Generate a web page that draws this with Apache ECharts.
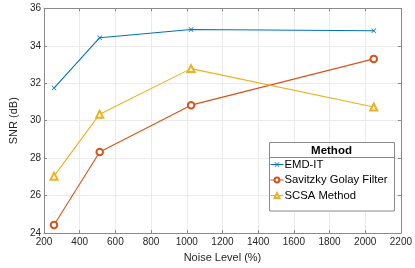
<!DOCTYPE html>
<html><head><meta charset="utf-8">
<script src="https://cdn.jsdelivr.net/npm/echarts@6/dist/echarts.min.js"></script>
<style>html,body{margin:0;padding:0;background:#fff}#c{width:415px;height:268px}</style>
</head><body><div id="c"></div>
<script>
const noiseLevels = [256, 512, 1024, 2048];
const emdIT = [31.74, 34.43, 34.87, 34.8];
const savitzkyGolay = [24.43, 28.33, 30.83, 33.3];
const scsa = [27.04, 30.35, 32.78, 30.73];
const seriesNames = ['EMD-IT', 'Savitzky Golay Filter', 'SCSA Method'];
const legendTitle = 'Method';
const xName = 'Noise Level (%)';
const yName = 'SNR (dB)';

const colors = ['#0072BD', '#D95319', '#EDB120'];
const F = 'Liberation Sans, Arial, Helvetica, sans-serif';
const txt = '#262626';
const axisCol = '#8a8a8a';
const crossPath = 'path://M0,1L1,0L5,4L9,0L10,1L6,5L10,9L9,10L5,6L1,10L0,9L4,5Z';

function pts(arr){ return noiseLevels.map((x,i)=>[x, arr[i]]); }

const chart = echarts.init(document.getElementById('c'), null, {renderer:'canvas'});
const axisLineStyle = {show:true, lineStyle:{color:axisCol, width:1}};
chart.setOption({
  animation:false,
  color: colors,
  grid:{left:29.3, right:12.7, top:8.3, bottom:29.7},
  xAxis:[{
    type:'value', min:200, max:2200, interval:200,
    name:xName, nameLocation:'middle', nameGap:16,
    nameTextStyle:{color:txt, fontFamily:F, fontSize:11},
    axisLine:axisLineStyle,
    axisTick:{show:true, inside:true, length:3, lineStyle:{color:axisCol}},
    axisLabel:{color:txt, fontFamily:F, fontSize:10, margin:4, formatter:v=>String(v)},
    splitLine:{show:true, lineStyle:{color:'#ebebeb', width:1}}
  },{
    type:'value', min:200, max:2200, interval:200, position:'top',
    axisLine:axisLineStyle,
    axisTick:{show:true, inside:true, length:3, lineStyle:{color:axisCol}},
    axisLabel:{show:false}, splitLine:{show:false}
  }],
  yAxis:[{
    type:'value', min:24, max:36, interval:2,
    name:yName, nameLocation:'middle', nameGap:16,
    nameTextStyle:{color:txt, fontFamily:F, fontSize:11},
    axisLine:axisLineStyle,
    axisTick:{show:true, inside:true, length:3, lineStyle:{color:axisCol}},
    axisLabel:{color:txt, fontFamily:F, fontSize:10, margin:3, formatter:v=>String(v)},
    splitLine:{show:true, lineStyle:{color:'#ebebeb', width:1}}
  },{
    type:'value', min:24, max:36, interval:2, position:'right',
    axisLine:axisLineStyle,
    axisTick:{show:true, inside:true, length:3, lineStyle:{color:axisCol}},
    axisLabel:{show:false}, splitLine:{show:false}
  }],
  legend:{
    orient:'vertical', left:270, top:158, padding:0,
    itemWidth:13, itemHeight:6, itemGap:2.5,
    itemStyle:{borderWidth:0.9},
    lineStyle:{width:1},
    textStyle:{color:'#000', fontFamily:F, fontSize:11.3, padding:[0,0,0,-4], lineHeight:13},
    data:seriesNames, z:10
  },
  graphic:[
    {type:'rect', z:5, shape:{x:269.5, y:142.5, width:125, height:68.5},
     style:{fill:'#fff', stroke:'#8a8a8a', lineWidth:1}},
    {type:'line', z:6, shape:{x1:269.5, y1:157.5, x2:394.5, y2:157.5},
     style:{stroke:'#8a8a8a', lineWidth:1}},
    {type:'text', z:6, x:331.5, y:150.7,
     style:{text:legendTitle, fill:'#000', font:'bold 11.5px Liberation Sans, Arial, sans-serif', textAlign:'center', textVerticalAlign:'middle'}}
  ],
  series:[
    {name:seriesNames[0], type:'line', data:pts(emdIT), symbol:crossPath, symbolSize:5,
     lineStyle:{width:1.1, color:colors[0]}, itemStyle:{color:colors[0]}},
    {name:seriesNames[1], type:'line', data:pts(savitzkyGolay), symbol:'emptyCircle', symbolSize:6.5,
     lineStyle:{width:1.1, color:colors[1]}, itemStyle:{color:colors[1], borderWidth:0.9}},
    {name:seriesNames[2], type:'line', data:pts(scsa), symbol:'emptyTriangle', symbolSize:7,
     lineStyle:{width:1.1, color:colors[2]}, itemStyle:{color:colors[2], borderWidth:0.9}}
  ]
});
</script></body></html>
